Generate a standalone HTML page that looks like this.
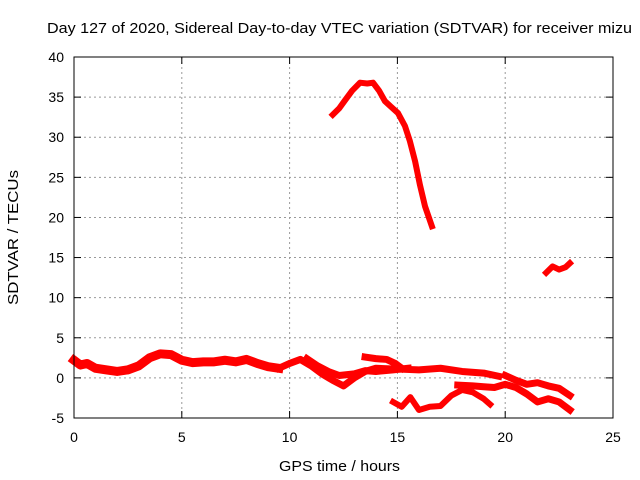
<!DOCTYPE html>
<html><head><meta charset="utf-8"><style>
body{margin:0;background:#fff}
svg{display:block;font-family:"Liberation Sans",sans-serif}
</style></head><body>
<svg id="chart" width="640" height="480">
<rect x="0" y="0" width="640" height="480" fill="#fff"/>
<text x="47" y="33" font-size="15" textLength="585" lengthAdjust="spacingAndGlyphs">Day 127 of 2020, Sidereal Day-to-day VTEC variation (SDTVAR) for receiver mizu</text>
<text x="279" y="471" font-size="15" textLength="121" lengthAdjust="spacingAndGlyphs">GPS time / hours</text>
<text transform="translate(18,305) rotate(-90)" font-size="15" textLength="135" lengthAdjust="spacingAndGlyphs">SDTVAR / TECUs</text>
<g id="grid"></g><g id="ticks"></g><g id="series"></g>
<rect x="74" y="57" width="539" height="361" fill="none" stroke="#000" stroke-width="1"/>
</svg>
<script>
const xTicks=[0,5,10,15,20,25];
const yTicks=[-5,0,5,10,15,20,25,30,35,40];
const sPeakH=[12.0,12.3,12.57,12.9,13.27,13.6,13.87,14.15,14.42,14.7,15.03,15.35,15.58,15.82,16.05,16.28,16.6];
const sPeakV=[32.8,33.6,34.6,35.8,36.8,36.7,36.8,35.8,34.5,33.8,33.0,31.4,29.5,27.0,24.0,21.4,18.9];
const sSmallH=[21.9,22.2,22.5,22.8,23.0];
const sSmallV=[13.1,13.9,13.5,13.8,14.3];
const sAH=[0,0.3,0.6,1,1.5,2,2.5,3,3.5,4,4.5,5,5.5,6,6.5,7,7.5,8,8.5,9,9.5];
const sAV=[2.2,1.6,1.8,1.2,1.0,0.8,1.0,1.5,2.5,3.0,2.9,2.2,1.9,2.0,2.0,2.2,2.0,2.3,1.8,1.4,1.2];
const sBH=[9.5,10,10.5,11,11.5,12,12.5,13,13.5,14,15,16,17,18,19,19.7];
const sBV=[1.2,1.8,2.3,1.5,0.5,-0.3,-1.0,0.0,0.8,1.2,1.1,1.0,1.2,0.8,0.6,0.2];
const sCH=[10.8,11.3,11.8,12.3,13,13.5,14,14.8,15.5];
const sCV=[2.4,1.5,0.8,0.3,0.5,0.9,0.8,1.0,1.2];
const sDH=[13.5,14,14.5,14.9,15.2];
const sDV=[2.6,2.4,2.3,1.8,1.2];
const sEH=[14.8,15.2,15.6,16,16.5,17,17.5,18,18.5,19,19.3];
const sEV=[-3.0,-3.6,-2.4,-4.0,-3.6,-3.5,-2.2,-1.5,-1.8,-2.6,-3.3];
const sFH=[17.8,18.5,19,19.5,20,20.5,21,21.5,22,22.5,23];
const sFV=[-0.9,-1.0,-1.1,-1.2,-0.8,-1.2,-2.0,-3.0,-2.6,-3.0,-4.0];
const sGH=[20,20.5,21,21.5,22,22.5,23];
const sGV=[0.3,-0.3,-0.8,-0.6,-1.0,-1.3,-2.2];
const X=h=>74+h*539/25;
const Y=v=>418-(v+5)*361/45;
const ns="http://www.w3.org/2000/svg";
const grid=document.getElementById('grid'),ticks=document.getElementById('ticks'),ser=document.getElementById('series');
function mk(t,a,p){const e=document.createElementNS(ns,t);for(const k in a)e.setAttribute(k,a[k]);p.appendChild(e);return e;}
xTicks.forEach(t=>{
 if(t>0&&t<25){const g=mk('line',{x1:X(t),x2:X(t),y1:57,y2:418,stroke:'#999','stroke-dasharray':'2,3'},grid);
 
 }
 mk('line',{x1:X(t),x2:X(t),y1:418,y2:411,stroke:'#000'},ticks);
 mk('line',{x1:X(t),x2:X(t),y1:57,y2:64,stroke:'#000'},ticks);
 const l=mk('text',{x:X(t),y:442,'font-size':14,'text-anchor':'middle'},ticks);l.textContent=t;
 
 
});
yTicks.forEach(t=>{
 if(t>-5&&t<40){const g=mk('line',{x1:74,x2:613,y1:Y(t),y2:Y(t),stroke:'#999','stroke-dasharray':'2,3'},grid);
 
 }
 mk('line',{x1:74,x2:81,y1:Y(t),y2:Y(t),stroke:'#000'},ticks);
 mk('line',{x1:606,x2:613,y1:Y(t),y2:Y(t),stroke:'#000'},ticks);
 const l=mk('text',{x:64,y:Y(t)+5,'font-size':14,'text-anchor':'end'},ticks);l.textContent=t;
 
 
});
function draw(H,V,name,w){
 const p=mk('polyline',{points:H.map((h,i)=>X(h)+','+Y(V[i])).join(' '),fill:'none',stroke:'#f00','stroke-width':w,'stroke-linejoin':'round','stroke-linecap':'square'},ser);
 
 
}
draw(sPeakH,sPeakV,'series-peak',6);
draw(sSmallH,sSmallV,'series-small',6);
draw(sAH,sAV,'series-a',9);
draw(sBH,sBV,'series-b',7);
draw(sCH,sCV,'series-c',7);
draw(sDH,sDV,'series-d',7);
draw(sEH,sEV,'series-e',6);
draw(sFH,sFV,'series-f',7);
draw(sGH,sGV,'series-g',7);
</script>
</body></html>
